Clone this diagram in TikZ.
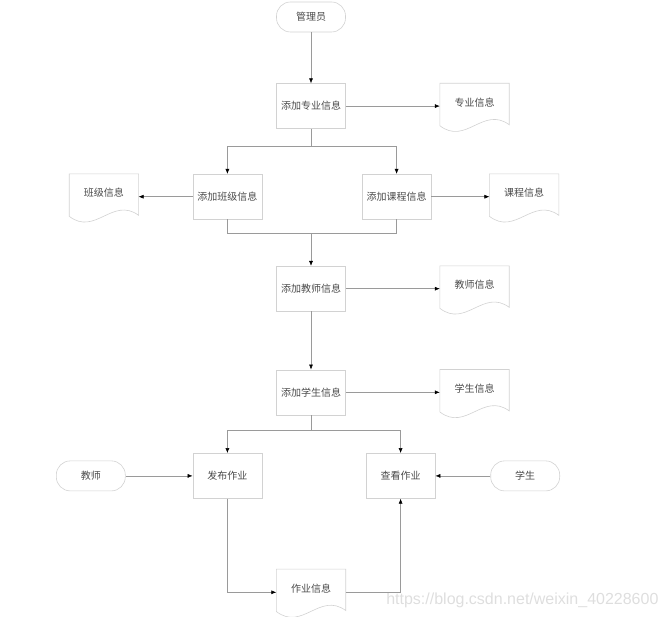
\documentclass[tikz,border=0pt]{standalone}
\usepackage{fontspec}
\usepackage{xcolor}
\usepackage{tikz}
\usetikzlibrary{arrows.meta,positioning,calc}
\newfontfamily\cjk{Noto Sans CJK SC}
\definecolor{flowline}{HTML}{9A9A9A}
\definecolor{flowedge}{HTML}{D2D2D2}
\definecolor{flowtext}{HTML}{4A4A4A}
\tikzset{
  base/.style={align=center,inner sep=2pt,font=\cjk\fontsize{10}{12}\selectfont,text=flowtext},
  procbox/.style={base,draw=flowedge,line width=0.6pt,minimum width=69pt,minimum height=45pt},
  term/.style={base,draw=flowedge,line width=0.6pt,rounded corners=14pt,minimum width=69pt,minimum height=30pt},
  doc/.style={base,minimum width=69pt,minimum height=38pt},
  docline/.style={draw=flowedge,line width=0.6pt},
  ln/.style={draw=flowline,line width=0.5pt},
  ar/.style={ln,-{Latex[length=5pt,width=4pt,color=black]}},
}
\newcommand\docshape[1]{\draw[docline] (#1.north west) -- (#1.north east) -- ([yshift=-3pt]#1.south east)
  .. controls ([xshift=-26pt,yshift=16pt]#1.south east) and ([xshift=26pt,yshift=-24pt]#1.south west) .. ([yshift=-4pt]#1.south west) -- cycle;}

\begin{document}
\begin{tikzpicture}[x=1pt,y=1pt]
  \useasboundingbox (0,0) rectangle (669,-617);
  \node[term] (admin) at (311,-17) {管理员};
  \node[procbox,below=51pt of admin] (major) {添加专业信息};
  \node[doc,right=94pt of major.north east,anchor=north west] (majordoc) {专业信息};
  \node[procbox,below left=45pt and 14pt of major] (cls) {添加班级信息};
  \node[procbox,below right=45pt and 16pt of major] (course) {添加课程信息};
  \node[doc,left=54pt of cls.north west,anchor=north east] (clsdoc) {班级信息};
  \node[doc,right=58pt of course.north east,anchor=north west] (coursedoc) {课程信息};
  \node[procbox,below=137pt of major] (tinfo) {添加教师信息};
  \node[doc,right=94pt of tinfo.north east,anchor=north west] (tdoc) {教师信息};
  \node[procbox,below=58pt of tinfo] (sinfo) {添加学生信息};
  \node[doc,right=94pt of sinfo.north east,anchor=north west] (sdoc) {学生信息};
  \node[procbox,below left=38pt and 14pt of sinfo] (publish) {发布作业};
  \node[procbox,below right=38pt and 20pt of sinfo] (view) {查看作业};
  \node[term,left=67pt of publish] (teacher) {教师};
  \node[term,right=55pt of view] (student) {学生};
  \node[doc,below=154pt of sinfo] (hwdoc) {作业信息};
  \node[anchor=east,font=\fontspec{Liberation Sans}\fontsize{16}{18}\selectfont,text=black!13] (mark) at (662,-600) {https://blog.csdn.net/weixin\_40228600};
  % document outlines
  \docshape{majordoc} \docshape{clsdoc} \docshape{coursedoc}
  \docshape{tdoc} \docshape{sdoc} \docshape{hwdoc}
  % connectors
  \draw[ar] (admin) -- (major);
  \draw[ar] (major.east) -- (major.east -| majordoc.west);
  \draw[ar] (major.south) -- ++(0,-17) coordinate (fork1) -| (cls.north);
  \draw[ar] (fork1) -| (course.north);
  \draw[ar] (cls.west) -- (cls.west -| clsdoc.east);
  \draw[ar] (course.east) -- (course.east -| coursedoc.west);
  \draw[ln] (cls.south) -- ++(0,-14) coordinate (join1) -| (course.south);
  \draw[ar] (join1 -| tinfo.north) -- (tinfo.north);
  \draw[ar] (tinfo.east) -- (tinfo.east -| tdoc.west);
  \draw[ar] (tinfo) -- (sinfo);
  \draw[ar] (sinfo.east) -- (sinfo.east -| sdoc.west);
  \draw[ar] (sinfo.south) -- ++(0,-15) coordinate (fork2) -| (publish.north);
  \draw[ar] (fork2) -| (view.north);
  \draw[ar] (teacher) -- (publish);
  \draw[ar] (student) -- (view);
  \draw[ar] (publish.south) |- ([yshift=-4pt]hwdoc.west);
  \draw[ar] ([yshift=-4pt]hwdoc.east) -| (view.south);
\end{tikzpicture}
\end{document}
